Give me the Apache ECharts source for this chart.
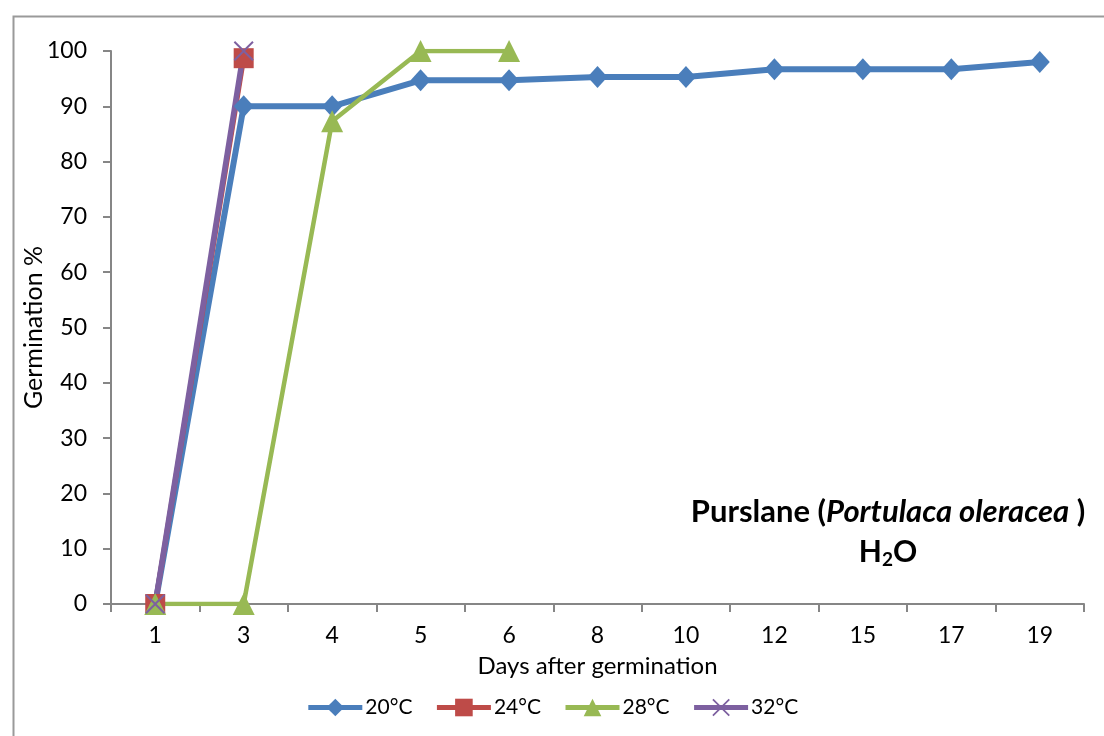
<!DOCTYPE html>
<html>
<head>
<meta charset="utf-8">
<script src="https://cdn.jsdelivr.net/npm/echarts@6/dist/echarts.min.js"></script>
<style>html,body{margin:0;padding:0;background:#fff;}#c{width:1104px;height:736px;}</style>
</head>
<body>
<div id="c"></div>
<script>
var categories = ['1','3','4','5','6','8','10','12','15','17','19'];
var s20 = [0, 90, 90, 94.7, 94.7, 95.3, 95.3, 96.7, 96.7, 96.7, 98];
var s24 = [0, 98.7];
var s28 = [0, 0, 87.3, 100, 100];
var s32 = [0, 100];
var yTicks = [0, 10, 20, 30, 40, 50, 60, 70, 80, 90, 100];

var FONT = 'Lato, "Open Sans", sans-serif';
var crossPath = 'path://M0,0.7 L0.7,0 L5,4.3 L9.3,0 L10,0.7 L5.7,5 L10,9.3 L9.3,10 L5,5.7 L0.7,10 L0,9.3 L4.3,5 Z';

var chart = echarts.init(document.getElementById('c'));
chart.setOption({
  animation: false,
  backgroundColor: '#fff',
  textStyle: { fontFamily: FONT },
  grid: { left: 111, right: 20, top: 51, bottom: 132, containLabel: false },
  xAxis: {
    type: 'category',
    data: categories,
    boundaryGap: true,
    name: 'Days after germination',
    nameLocation: 'middle',
    nameGap: 50,
    nameMoveOverlap: false,
    nameTextStyle: { fontSize: 24, color: '#000', fontFamily: FONT },
    axisLine: { lineStyle: { color: '#868686', width: 2 } },
    axisTick: { show: true, alignWithLabel: false, length: 8, lineStyle: { color: '#868686', width: 2 } },
    axisLabel: { fontSize: 23, color: '#000', margin: 20, fontFamily: FONT },
    splitLine: { show: false }
  },
  yAxis: {
    type: 'value',
    min: 0, max: 100, interval: 10,
    name: 'Germination %',
    nameLocation: 'middle',
    nameGap: 65,
    nameMoveOverlap: false,
    nameTextStyle: { fontSize: 25, color: '#000', fontFamily: FONT },
    axisLine: { show: true, lineStyle: { color: '#868686', width: 2 } },
    axisTick: { show: true, length: 8, lineStyle: { color: '#868686', width: 2 } },
    axisLabel: {
      fontSize: 23, color: '#000', margin: 24, fontFamily: FONT,
      formatter: function (v) { return yTicks.indexOf(v) >= 0 ? String(v) : ''; }
    },
    splitLine: { show: false }
  },
  legend: {
    bottom: 13,
    left: 'center',
    itemWidth: 54,
    itemHeight: 22,
    itemGap: 22,
    lineStyle: { width: 5 },
    textStyle: { fontSize: 21, color: '#000', fontFamily: FONT, padding: [0,0,0,-2] },
    data: ['20°C', '24°C', '28°C', '32°C']
  },
  series: [
    { name: '20°C', type: 'line', data: s20, symbol: 'diamond', symbolSize: [20, 22],
      lineStyle: { color: '#4A7EBB', width: 6 }, itemStyle: { color: '#4A7EBB' } },
    { name: '24°C', type: 'line', data: s24, symbol: 'rect', symbolSize: 20,
      lineStyle: { color: '#BE4B48', width: 5 }, itemStyle: { color: '#BE4B48' } },
    { name: '28°C', type: 'line', data: s28, symbol: 'triangle', symbolSize: 22,
      lineStyle: { color: '#98B954', width: 4.5 }, itemStyle: { color: '#98B954' } },
    { name: '32°C', type: 'line', data: s32, symbol: crossPath, symbolSize: 20,
      lineStyle: { color: '#7D60A0', width: 5.5 }, itemStyle: { color: '#7D60A0' } }
  ],
  graphic: [
    { type: 'rect', left: 11, top: 14, shape: { x: 0, y: 0, width: 1200, height: 800 },
      style: { fill: 'none', stroke: '#9a9a9a', lineWidth: 2 }, silent: true, z: -10 },
    { type: 'text', x: 888, y: 512, style: {
        text: '{b|Purslane (}{bi|Portulaca oleracea}{b| )}',
        align: 'center', verticalAlign: 'middle',
        rich: {
          b: { fontSize: 31, fontWeight: 'bold', fontFamily: FONT, fill: '#000' },
          bi: { fontSize: 31, fontWeight: 'bold', fontStyle: 'italic', fontFamily: FONT, fill: '#000' }
        }
      } },
    { type: 'text', x: 888, y: 552, style: {
        text: '{b|H}{sub|2}{b|O}',
        align: 'center', verticalAlign: 'middle',
        rich: {
          b: { fontSize: 30, fontWeight: 'bold', fontFamily: FONT, fill: '#000' },
          sub: { fontSize: 19, fontWeight: 'bold', fontFamily: FONT, fill: '#000', padding: [16, 0, 0, 0] }
        }
      } }
  ]
});
</script>
</body>
</html>
